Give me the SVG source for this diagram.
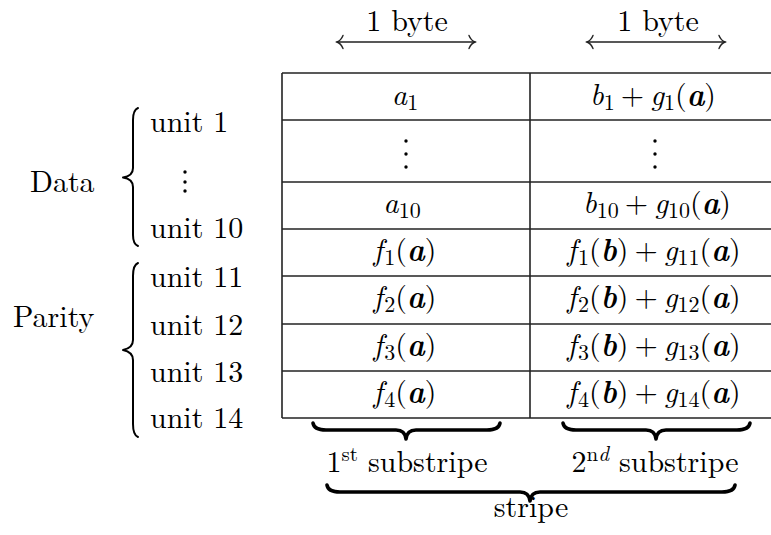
<svg xmlns="http://www.w3.org/2000/svg" width="771" height="535" viewBox="0 0 771 535">
<defs>
<style>
text{font-size:30px;fill:#000}
.i{font-style:italic}
.bi{font-style:italic;font-weight:bold}
.sub{font-size:22px}
.sup{font-size:21px}
.grid{stroke:#222;stroke-width:1.6;fill:none}
.brace{stroke:#000;fill:none;stroke-linecap:round;stroke-linejoin:round}
.arr{stroke:#222;stroke-width:1.4;fill:none;stroke-linecap:round}
</style>
</defs>
<rect width="771" height="535" fill="#fff"/>
<g font-family="Latin Modern Roman, CMU Serif, Liberation Serif, serif">

<g id="header">
<text x="407" y="31" text-anchor="middle">1 byte</text>
<text x="658" y="31" text-anchor="middle">1 byte</text>
</g>

<g id="connectors">
<g id="arrow1" class="arr">
<line x1="337" y1="42" x2="475" y2="42"/>
<path d="M343,35.5 Q341,40.5 337,42 Q341,43.5 343,48.5"/>
<path d="M469,35.5 Q471,40.5 475,42 Q471,43.5 469,48.5"/>
</g>
<g id="arrow2" class="arr">
<line x1="587" y1="42" x2="725" y2="42"/>
<path d="M593,35.5 Q591,40.5 587,42 Q591,43.5 593,48.5"/>
<path d="M719,35.5 Q721,40.5 725,42 Q721,43.5 719,48.5"/>
</g>
</g>

<g id="table" class="grid">
<line x1="282" y1="73" x2="771" y2="73"/>
<line x1="282" y1="120" x2="771" y2="120"/>
<line x1="282" y1="182" x2="771" y2="182"/>
<line x1="282" y1="229" x2="771" y2="229"/>
<line x1="282" y1="276" x2="771" y2="276"/>
<line x1="282" y1="324" x2="771" y2="324"/>
<line x1="282" y1="371" x2="771" y2="371"/>
<line x1="282" y1="418" x2="771" y2="418"/>
<line x1="282" y1="73" x2="282" y2="418"/>
<line x1="530" y1="73" x2="530" y2="418"/>
</g>

<g id="row1">
<text x="405" y="105" text-anchor="middle"><tspan class="i">a</tspan><tspan class="sub" dy="5">1</tspan></text>
<text x="653" y="105" text-anchor="middle"><tspan class="i">b</tspan><tspan class="sub" dy="5">1</tspan><tspan dy="-5" dx="6">+</tspan><tspan class="i" dx="6">g</tspan><tspan class="sub" dy="5">1</tspan><tspan dy="-5">(</tspan><tspan class="bi">a</tspan>)</text>
</g>
<g id="row2">
<circle cx="406" cy="141" r="1.7"/><circle cx="406" cy="154" r="1.7"/><circle cx="406" cy="167" r="1.7"/>
<circle cx="655" cy="141" r="1.7"/><circle cx="655" cy="154" r="1.7"/><circle cx="655" cy="167" r="1.7"/>
</g>
<g id="row3">
<text x="402" y="213" text-anchor="middle"><tspan class="i">a</tspan><tspan class="sub" dy="5">10</tspan></text>
<text x="657" y="213" text-anchor="middle"><tspan class="i">b</tspan><tspan class="sub" dy="5">10</tspan><tspan dy="-5" dx="6">+</tspan><tspan class="i" dx="6">g</tspan><tspan class="sub" dy="5">10</tspan><tspan dy="-5">(</tspan><tspan class="bi">a</tspan>)</text>
</g>
<g id="row4">
<text x="405" y="260" text-anchor="middle"><tspan class="i">f</tspan><tspan class="sub" dy="5" dx="1.5">1</tspan><tspan dy="-5">(</tspan><tspan class="bi">a</tspan>)</text>
<text x="654" y="260" text-anchor="middle"><tspan class="i">f</tspan><tspan class="sub" dy="5" dx="1.5">1</tspan><tspan dy="-5">(</tspan><tspan class="bi">b</tspan>)<tspan dx="6">+</tspan><tspan class="i" dx="6">g</tspan><tspan class="sub" dy="5">11</tspan><tspan dy="-5">(</tspan><tspan class="bi">a</tspan>)</text>
</g>
<g id="row5">
<text x="405" y="307" text-anchor="middle"><tspan class="i">f</tspan><tspan class="sub" dy="5" dx="1.5">2</tspan><tspan dy="-5">(</tspan><tspan class="bi">a</tspan>)</text>
<text x="654" y="307" text-anchor="middle"><tspan class="i">f</tspan><tspan class="sub" dy="5" dx="1.5">2</tspan><tspan dy="-5">(</tspan><tspan class="bi">b</tspan>)<tspan dx="6">+</tspan><tspan class="i" dx="6">g</tspan><tspan class="sub" dy="5">12</tspan><tspan dy="-5">(</tspan><tspan class="bi">a</tspan>)</text>
</g>
<g id="row6">
<text x="405" y="355" text-anchor="middle"><tspan class="i">f</tspan><tspan class="sub" dy="5" dx="1.5">3</tspan><tspan dy="-5">(</tspan><tspan class="bi">a</tspan>)</text>
<text x="654" y="355" text-anchor="middle"><tspan class="i">f</tspan><tspan class="sub" dy="5" dx="1.5">3</tspan><tspan dy="-5">(</tspan><tspan class="bi">b</tspan>)<tspan dx="6">+</tspan><tspan class="i" dx="6">g</tspan><tspan class="sub" dy="5">13</tspan><tspan dy="-5">(</tspan><tspan class="bi">a</tspan>)</text>
</g>
<g id="row7">
<text x="405" y="402" text-anchor="middle"><tspan class="i">f</tspan><tspan class="sub" dy="5" dx="1.5">4</tspan><tspan dy="-5">(</tspan><tspan class="bi">a</tspan>)</text>
<text x="654" y="402" text-anchor="middle"><tspan class="i">f</tspan><tspan class="sub" dy="5" dx="1.5">4</tspan><tspan dy="-5">(</tspan><tspan class="bi">b</tspan>)<tspan dx="6">+</tspan><tspan class="i" dx="6">g</tspan><tspan class="sub" dy="5">14</tspan><tspan dy="-5">(</tspan><tspan class="bi">a</tspan>)</text>
</g>

<g id="units">
<text x="150" y="132">unit 1</text>
<circle cx="185" cy="172" r="1.7"/><circle cx="185" cy="182" r="1.7"/><circle cx="185" cy="191" r="1.7"/>
<text x="150" y="238">unit 10</text>
<text x="150" y="287">unit 11</text>
<text x="150" y="335">unit 12</text>
<text x="150" y="382">unit 13</text>
<text x="150" y="428">unit 14</text>
</g>

<g id="data-group">
<text x="30" y="192">Data</text>
<path class="brace" stroke-width="2" d="M138,108 Q133,110 133,120 L133,168 Q133,176 123,177.5 Q133,179 133,187 L133,235 Q133,244 138,246"/>
</g>
<g id="parity-group">
<text x="13" y="327">Parity</text>
<path class="brace" stroke-width="2" d="M138,263 Q133,265 133,276 L133,340 Q133,348 123,350 Q133,352 133,360 L133,424 Q133,435 138,437"/>
</g>

<g id="substripe1">
<path class="brace" stroke-width="3.6" d="M313,423 Q314,430 326,430 L396,430 Q405,430 406,439 Q407,430 416,430 L487,430 Q499,430 500,423"/>
<text x="407" y="472" text-anchor="middle">1<tspan class="sup" dy="-11">st</tspan><tspan dy="11"> substripe</tspan></text>
</g>
<g id="substripe2">
<path class="brace" stroke-width="3.6" d="M563,423 Q564,430 576,430 L646,430 Q655,430 656,439 Q657,430 666,430 L737,430 Q749,430 750,423"/>
<text x="655" y="472" text-anchor="middle">2<tspan class="sup" dy="-11">n</tspan><tspan class="sup i">d</tspan><tspan dy="11"> substripe</tspan></text>
</g>
<g id="stripe">
<path class="brace" stroke-width="3.6" d="M327,485 Q328,492 340,492 L520,492 Q529,492 530,501 Q531,492 540,492 L722,492 Q734,492 735,485"/>
<text x="531" y="517" text-anchor="middle">stripe</text>
</g>
</g>
</svg>
